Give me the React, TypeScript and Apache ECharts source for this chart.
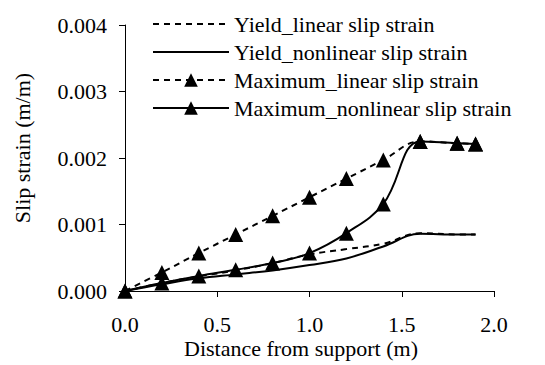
import React, { useEffect, useRef } from "react";
import * as echarts from "echarts";

const xValues = [0, 0.2, 0.4, 0.6, 0.8, 1.0, 1.2, 1.4, 1.6, 1.8, 1.9];
const yieldLinear = [0, 0.00012, 0.00022, 0.00031, 0.00042, 0.00055, 0.00063, 0.00071, 0.00087, 0.00085, 0.00085];
const yieldNonlinear = [0, 0.0001, 0.00019, 0.00025, 0.00031, 0.00039, 0.00049, 0.00067, 0.00086, 0.00085, 0.00085];
const maxLinear = [0, 0.00028, 0.00057, 0.00085, 0.00113, 0.00141, 0.00169, 0.00197, 0.00225, 0.00222, 0.00221];
const maxNonlinear = [0, 0.00012, 0.000225, 0.00032, 0.00042, 0.00057, 0.00087, 0.00131, 0.00225, 0.00222, 0.00221];

const seriesNames = [
  "Yield_linear slip strain",
  "Yield_nonlinear slip strain",
  "Maximum_linear slip strain",
  "Maximum_nonlinear slip strain",
];
const xTitle = "Distance from support (m)";
const yTitle = "Slip strain (m/m)";

const FONT = "Liberation Serif";
const FS = 22;

export default function App() {
  const ref = useRef<HTMLDivElement>(null);
  useEffect(() => {
    if (!ref.current) return;
    const chart = echarts.init(ref.current, null, { renderer: "svg" });
    const pair = (ys: number[]) => xValues.map((x, i) => [x, ys[i]]);
    const mk = (name: string, ys: number[], dashed: boolean, marker: boolean) => ({
      name,
      type: "line",
      data: pair(ys),
      smooth: 0.4,
      symbol: marker ? "triangle" : "none",
      symbolSize: marker ? 15 : 0,
      showSymbol: marker,
      itemStyle: { color: "#000" },
      lineStyle: { color: "#000", width: 2, type: dashed ? [6, 5] : "solid" },
      z: marker ? 3 : 2,
    });
    chart.setOption({
      animation: false,
      backgroundColor: "#fff",
      grid: { left: 125, right: 51, top: 25, bottom: 74 },
      legend: {
        orient: "vertical",
        left: 147,
        top: 8,
        itemWidth: 76,
        itemHeight: 17,
        itemGap: 6,
        data: seriesNames.map((n, i) =>
          i < 2 ? { name: n, itemStyle: { opacity: 0 } } : { name: n }
        ),
        textStyle: { fontFamily: FONT, fontSize: FS, color: "#000" },
      },
      xAxis: {
        type: "value",
        min: 0,
        max: 2,
        interval: 0.5,
        axisLine: { lineStyle: { color: "#000", width: 1 } },
        axisTick: { length: 6, lineStyle: { color: "#000" } },
        splitLine: { show: false },
        axisLabel: {
          color: "#000",
          fontSize: FS,
          fontFamily: FONT,
          margin: 22,
          formatter: (v: number) => v.toFixed(1),
        },
      },
      yAxis: {
        type: "value",
        min: 0,
        max: 0.004,
        interval: 0.001,
        axisLine: { show: true, lineStyle: { color: "#000", width: 1 } },
        axisTick: { show: true, length: 6, lineStyle: { color: "#000" } },
        splitLine: { show: false },
        axisLabel: {
          color: "#000",
          fontSize: FS,
          fontFamily: FONT,
          margin: 18,
          formatter: (v: number) => v.toFixed(3),
        },
      },
      graphic: [
        {
          type: "text",
          x: 22,
          y: 148,
          rotation: Math.PI / 2,
          style: {
            text: yTitle,
            fontFamily: FONT,
            fontSize: FS,
            fill: "#000",
            align: "center",
            verticalAlign: "middle",
          },
        },
        {
          type: "text",
          x: 301,
          y: 348,
          style: {
            text: xTitle,
            fontFamily: FONT,
            fontSize: FS,
            fill: "#000",
            align: "center",
            verticalAlign: "middle",
          },
        },
      ],
      series: [
        mk(seriesNames[0], yieldLinear, true, false),
        mk(seriesNames[1], yieldNonlinear, false, false),
        mk(seriesNames[2], maxLinear, true, true),
        mk(seriesNames[3], maxNonlinear, false, true),
      ],
    });
    return () => chart.dispose();
  }, []);
  return <div ref={ref} style={{ width: 545, height: 365, position: "absolute", left: 0, top: 0 }} />;
}
